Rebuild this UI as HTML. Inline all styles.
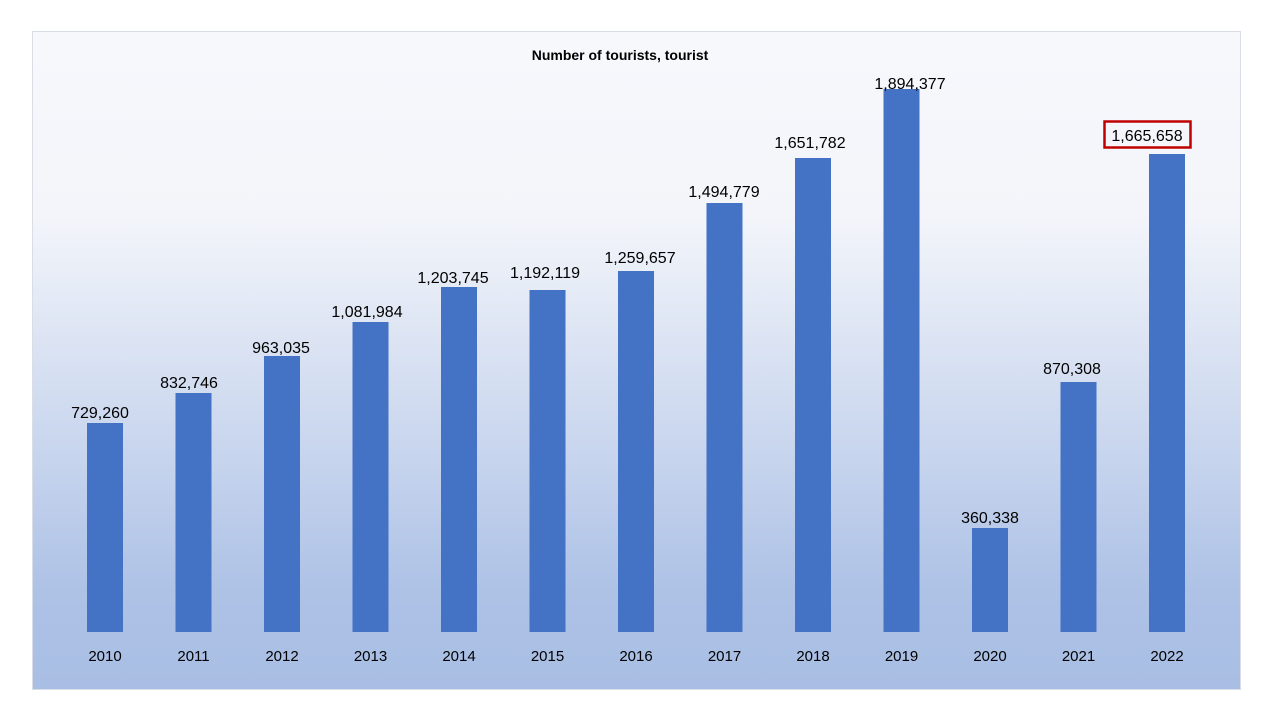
<!DOCTYPE html>
<html><head><meta charset="utf-8"><style>
html,body{margin:0;padding:0;background:#fff;width:1280px;height:720px;overflow:hidden}
svg{display:block}
text{font-family:"Liberation Sans",sans-serif;fill:#000}
</style></head><body>
<svg width="1280" height="720" viewBox="0 0 1280 720">
<defs><linearGradient id="g" x1="0" y1="0" x2="0" y2="1">
<stop offset="0" stop-color="#f6f8fc"/><stop offset="0.28" stop-color="#f3f5fa"/>
<stop offset="0.85" stop-color="#aec2e6"/><stop offset="1" stop-color="#a9bee4"/></linearGradient></defs>
<rect x="32.5" y="31.5" width="1208" height="658" fill="url(#g)" stroke="#d9dde6"/>
<text x="620" y="60" font-size="14" font-weight="bold" text-anchor="middle">Number of tourists, tourist</text>
<g fill="#4472c4">
<rect x="87" y="423" width="36" height="209"/>
<rect x="175.5" y="393" width="36" height="239"/>
<rect x="264" y="356" width="36" height="276"/>
<rect x="352.5" y="322" width="36" height="310"/>
<rect x="441" y="287" width="36" height="345"/>
<rect x="529.5" y="290" width="36" height="342"/>
<rect x="618" y="271" width="36" height="361"/>
<rect x="706.5" y="203" width="36" height="429"/>
<rect x="795" y="158" width="36" height="474"/>
<rect x="883.5" y="89" width="36" height="543"/>
<rect x="972" y="528" width="36" height="104"/>
<rect x="1060.5" y="382" width="36" height="250"/>
<rect x="1149" y="154" width="36" height="478"/>
</g>
<g font-size="16" text-anchor="middle">
<text x="100" y="418">729,260</text>
<text x="189" y="388">832,746</text>
<text x="281" y="353">963,035</text>
<text x="367" y="317">1,081,984</text>
<text x="453" y="283">1,203,745</text>
<text x="545" y="278">1,192,119</text>
<text x="640" y="263">1,259,657</text>
<text x="724" y="197">1,494,779</text>
<text x="810" y="148">1,651,782</text>
<text x="910" y="89">1,894,377</text>
<text x="990" y="523">360,338</text>
<text x="1072" y="374">870,308</text>
<text x="1147" y="141">1,665,658</text>
</g>
<rect x="1104.5" y="121.5" width="86" height="26" fill="none" stroke="#c00000" stroke-width="2.5"/>
<g font-size="15" text-anchor="middle">
<text x="105" y="661">2010</text><text x="193.5" y="661">2011</text><text x="282" y="661">2012</text>
<text x="370.5" y="661">2013</text><text x="459" y="661">2014</text><text x="547.5" y="661">2015</text>
<text x="636" y="661">2016</text><text x="724.5" y="661">2017</text><text x="813" y="661">2018</text>
<text x="901.5" y="661">2019</text><text x="990" y="661">2020</text><text x="1078.5" y="661">2021</text>
<text x="1167" y="661">2022</text>
</g>
</svg>
</body></html>
